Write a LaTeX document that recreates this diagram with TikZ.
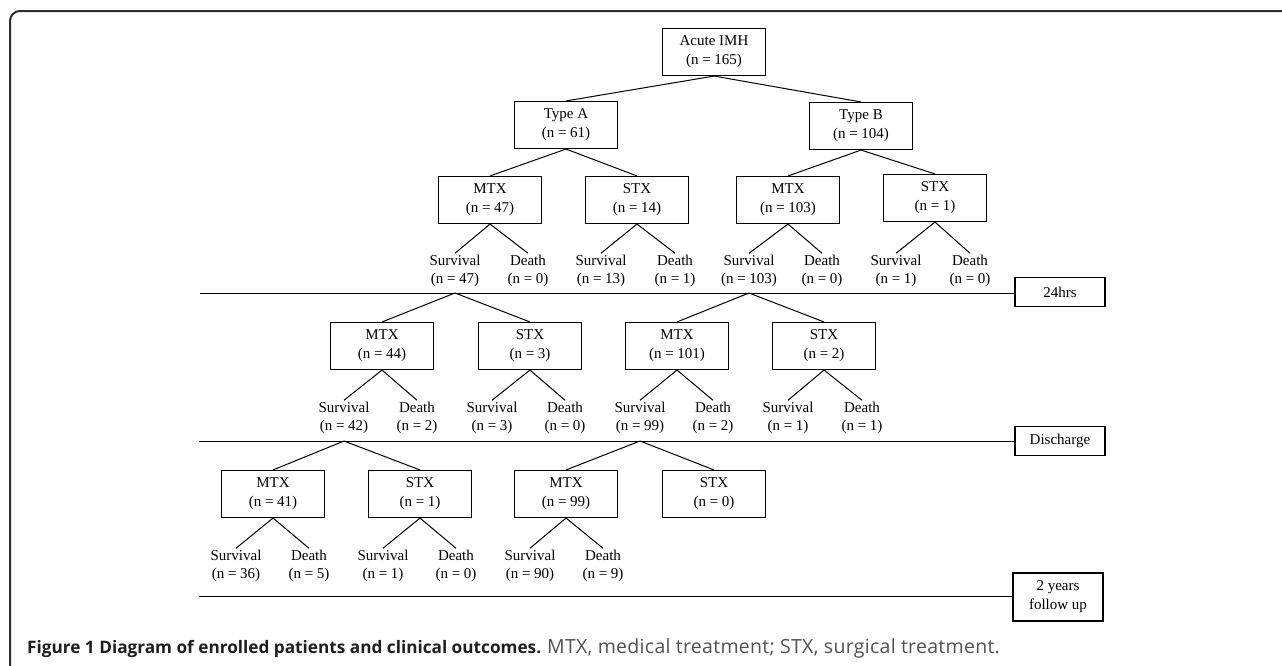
\documentclass[tikz,border=0pt]{standalone}
\usepackage{fontspec}
\setmainfont{Liberation Serif}
\newfontfamily\capfont{Open Sans}
\newfontfamily\capwide{Open Sans}[LetterSpace=1.5]
\definecolor{capgray}{RGB}{80,80,80}
\definecolor{capdark}{RGB}{30,30,30}
\definecolor{framegray}{RGB}{45,45,45}

\begin{document}
\begin{tikzpicture}[x=1pt,y=-1pt]

        \useasboundingbox (0,0) rectangle (1282,665);
        \draw[framegray,line width=2pt,rounded corners=10pt] (10,672) -- (10,11) -- (1292,11);

        \begin{scope}[every node/.style={draw,line width=1.1pt,minimum width=103pt,minimum height=47pt,
            align=center,inner sep=2pt,font=\fontsize{15}{19}\selectfont}]
          \node (root) at (714,52)   {Acute IMH\\(n = 165)};
          \node (tA)   at (566,125)  {Type A\\(n = 61)};
          \node (tB)   at (861,126)  {Type B\\(n = 104)};
          \node (m1)   at (490,200)  {MTX\\(n = 47)};
          \node (s1)   at (637,200)  {STX\\(n = 14)};
          \node (m2)   at (788,200)  {MTX\\(n = 103)};
          \node (s2)   at (935,198)  {STX\\(n = 1)};
          \node (m3)   at (382,346)  {MTX\\(n = 44)};
          \node (s3)   at (530,346)  {STX\\(n = 3)};
          \node (m4)   at (677,346)  {MTX\\(n = 101)};
          \node (s4)   at (824,346)  {STX\\(n = 2)};
          \node (m5)   at (273,494)  {MTX\\(n = 41)};
          \node (s5)   at (420,494)  {STX\\(n = 1)};
          \node (m6)   at (566,494)  {MTX\\(n = 99)};
          \node (s6)   at (714,494)  {STX\\(n = 0)};
        \end{scope}

        \begin{scope}[every node/.style={align=center,inner sep=2pt,font=\fontsize{15}{17.5}\selectfont}]
          \node (a1)  at (455,271)  {Survival\\(n = 47)};
          \node (b1)  at (528,271)  {Death\\(n = 0)};
          \node (a2)  at (601,271)  {Survival\\(n = 13)};
          \node (b2)  at (675,271)  {Death\\(n = 1)};
          \node (a3)  at (749,271)  {Survival\\(n = 103)};
          \node (b3)  at (822,271)  {Death\\(n = 0)};
          \node (a4)  at (896,271)  {Survival\\(n = 1)};
          \node (b4)  at (970,271)  {Death\\(n = 0)};
          \node (a5)  at (344,418)  {Survival\\(n = 42)};
          \node (b5)  at (417,418)  {Death\\(n = 2)};
          \node (a6)  at (492,418)  {Survival\\(n = 3)};
          \node (b6)  at (565,418)  {Death\\(n = 0)};
          \node (a7)  at (640,418)  {Survival\\(n = 99)};
          \node (b7)  at (713,418)  {Death\\(n = 2)};
          \node (a8)  at (788,418)  {Survival\\(n = 1)};
          \node (b8)  at (862,418)  {Death\\(n = 1)};
          \node (a9)  at (236,566)  {Survival\\(n = 36)};
          \node (b9)  at (309,566)  {Death\\(n = 5)};
          \node (a10) at (383,566)  {Survival\\(n = 1)};
          \node (b10) at (456,566)  {Death\\(n = 0)};
          \node (a11) at (530,566)  {Survival\\(n = 90)};
          \node (b11) at (603,566)  {Death\\(n = 9)};
        \end{scope}

        \begin{scope}[every node/.style={draw,line width=1.1pt,minimum width=90pt,align=center,
            inner sep=2pt,font=\fontsize{15}{19}\selectfont}]
          \node[minimum height=29pt] (hrs)    at (1060,292) {24hrs};
          \node[minimum height=29pt] (disch)  at (1060,441) {Discharge};
          \node[minimum height=48pt] (follow) at (1058,597) {2 years\\follow up};
        \end{scope}

        \coordinate (h1) at (200,293);
        \coordinate (h2) at (199,441);
        \coordinate (h3) at (199,596);
        \coordinate (p1) at (a1 |- h1);
        \coordinate (p2) at (a3 |- h1);
        \coordinate (p3) at (a5 |- h2);
        \coordinate (p4) at (a7 |- h2);

        \begin{scope}[every edge/.style={draw,line width=1pt}]
          \path (h1) edge (h1 -| hrs.west);
          \path (h2) edge (disch.west);
          \path (h3 -| follow.west) edge (h3);
          \path (root.south) edge (tA.north) edge (tB.north);
          \path (tA.south) edge (m1.north) edge (s1.north);
          \path (tB.south) edge (m2.north) edge (s2.north);
          \path (m1.south) edge (a1.north) edge (b1.north);
          \path (s1.south) edge (a2.north) edge (b2.north);
          \path (m2.south) edge (a3.north) edge (b3.north);
          \path (s2.south) edge (a4.north) edge (b4.north);
          \path (p1) edge (m3.north) edge (s3.north);
          \path (p2) edge (m4.north) edge (s4.north);
          \path (m3.south) edge (a5.north) edge (b5.north);
          \path (s3.south) edge (a6.north) edge (b6.north);
          \path (m4.south) edge (a7.north) edge (b7.north);
          \path (s4.south) edge (a8.north) edge (b8.north);
          \path (p3) edge (m5.north) edge (s5.north);
          \path (p4) edge (m6.north) edge (s6.north);
          \path (m5.south) edge (a9.north) edge (b9.north);
          \path (s5.south) edge (a10.north) edge (b10.north);
          \path (m6.south) edge (a11.north) edge (b11.north);
        \end{scope}

        \node[anchor=base west,inner sep=0pt,font=\capfont\fontsize{17.2}{20}\selectfont] (cap) at (27,653)
          {\textcolor{capdark}{\textbf{Figure 1 Diagram of enrolled patients and clinical outcomes.}}
           \textcolor{capgray}{\capwide\fontsize{19.5}{20}\selectfont MTX, medical treatment; STX, surgical treatment.}};

      \end{tikzpicture}
\end{document}
